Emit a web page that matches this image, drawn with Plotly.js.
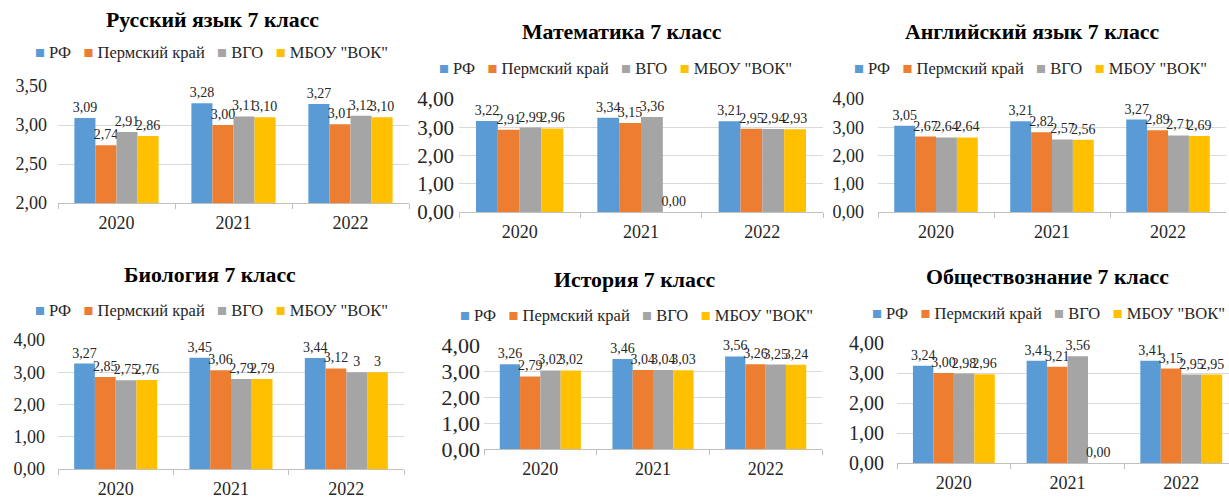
<!DOCTYPE html>
<html><head><meta charset="utf-8">
<script src="https://cdn.plot.ly/plotly-3.0.1.min.js"></script>
<style>html,body{margin:0;padding:0;background:#fff}#chart{width:1229px;height:497px}</style>
</head><body><div id="chart"></div>
<script>
// ---------- data ----------
const categories = ['2020', '2021', '2022'];
const seriesNames = ['РФ', 'Пермский край', 'ВГО', 'МБОУ "ВОК"'];
const seriesColors = ['#5B9BD5', '#ED7D31', '#A5A5A5', '#FFC000'];

const russianTitle = 'Русский язык 7 класс';
const russianRF = [3.09, 3.28, 3.27];
const russianPerm = [2.74, 3.00, 3.01];
const russianVGO = [2.91, 3.11, 3.12];
const russianVOK = [2.86, 3.10, 3.10];

const mathTitle = 'Математика 7 класс';
const mathRF = [3.22, 3.34, 3.21];
const mathPerm = [2.91, 3.15, 2.95];
const mathVGO = [2.99, 3.36, 2.94];
const mathVOK = [2.96, 0.00, 2.93];

const englishTitle = 'Английский язык 7 класс';
const englishRF = [3.05, 3.21, 3.27];
const englishPerm = [2.67, 2.82, 2.89];
const englishVGO = [2.64, 2.57, 2.71];
const englishVOK = [2.64, 2.56, 2.69];

const biologyTitle = 'Биология 7 класс';
const biologyRF = [3.27, 3.45, 3.44];
const biologyPerm = [2.85, 3.06, 3.12];
const biologyVGO = [2.75, 2.79, 3];
const biologyVOK = [2.76, 2.79, 3];

const historyTitle = 'История 7 класс';
const historyRF = [3.26, 3.46, 3.56];
const historyPerm = [2.79, 3.04, 3.26];
const historyVGO = [3.02, 3.04, 3.25];
const historyVOK = [3.02, 3.03, 3.24];

const socialTitle = 'Обществознание 7 класс';
const socialRF = [3.24, 3.41, 3.41];
const socialPerm = [3.00, 3.21, 3.15];
const socialVGO = [2.98, 3.56, 2.95];
const socialVOK = [2.96, 0.00, 2.95];

// decimals shown in data labels (biology 2022 shown as integers in the source)
const biologyVGODecimals = [2, 2, 0];
const biologyVOKDecimals = [2, 2, 0];

// ---------- layout helpers ----------
const W = 1229, H = 497;
const px = v => v / W, py = v => 1 - v / H;
const fmt = (v, d) => v.toFixed(d).replace('.', ',');
const serif = (size, color) => ({family: 'Liberation Serif', size: size, color: color || '#262626'});

const panels = [
  {title: russianTitle, series: [russianRF, russianPerm, russianVGO, russianVOK],
   plot: [58, 86, 409, 203], titleAt: [212, 20], legendAt: [33, 52],
   yRange: [2, 3.5], dtick: 0.5, tickSize: 18, standoff: 10, clip: true, xMax: 2.5},
  {title: mathTitle, series: [mathRF, mathPerm, mathVGO, mathVOK],
   plot: [459, 99, 823, 212], titleAt: [622, 32], legendAt: [437, 68],
   yRange: [0, 4], dtick: 1, tickSize: 21, standoff: 4, clip: false, xMax: 2.5},
  {title: englishTitle, series: [englishRF, englishPerm, englishVGO, englishVOK],
   plot: [878, 99, 1226, 212], titleAt: [1032, 32], legendAt: [852, 68],
   yRange: [0, 4], dtick: 1, tickSize: 18, standoff: 13, clip: false, xMax: 2.5},
  {title: biologyTitle, series: [biologyRF, biologyPerm, biologyVGO, biologyVOK],
   decimals: [null, null, biologyVGODecimals, biologyVOKDecimals],
   plot: [58, 340, 404, 469], titleAt: [210, 275], legendAt: [33, 310],
   yRange: [0, 4], dtick: 1, tickSize: 18, standoff: 12, clip: false, xMax: 2.5},
  {title: historyTitle, series: [historyRF, historyPerm, historyVGO, historyVOK],
   plot: [484, 345, 822, 449], titleAt: [635, 280], legendAt: [458, 315],
   yRange: [0, 4], dtick: 1, tickSize: 22, standoff: 3, clip: false, xMax: 2.5},
  {title: socialTitle, series: [socialRF, socialPerm, socialVGO, socialVOK],
   plot: [897, 343, 1229, 463], titleAt: [1047, 277], legendAt: [870, 313],
   yRange: [0, 4], dtick: 1, tickSize: 20, standoff: 12, clip: false, xMax: 2.42}
];

const traces = [];
const layout = {
  width: W, height: H,
  margin: {l: 0, r: 0, t: 0, b: 0},
  paper_bgcolor: '#ffffff', plot_bgcolor: '#ffffff',
  separators: ', ',
  showlegend: false,
  barmode: 'group', bargap: 0.28, bargroupgap: 0,
  annotations: []
};

const nb = '\u00A0';
const legendText = seriesNames.map((n, i) =>
  `<span style="color:${seriesColors[i]}">■</span>${nb}${n}`).join(nb + nb + nb);

panels.forEach((p, k) => {
  const idx = k === 0 ? '' : String(k + 1);
  const xa = 'x' + idx, ya = 'y' + idx;
  p.series.forEach((vals, s) => {
    const dec = p.decimals && p.decimals[s];
    traces.push({
      type: 'bar', x: categories, y: vals, name: seriesNames[s],
      xaxis: xa, yaxis: ya,
      marker: {color: seriesColors[s], line: {width: 0}},
      text: vals.map((v, i) => fmt(v, dec ? dec[i] : 2)),
      texttemplate: '%{text}',
      textposition: 'outside', constraintext: 'none', cliponaxis: p.clip,
      textfont: serif(14),
      hoverinfo: 'skip'
    });
  });
  const [x0, y0, x1, y1] = p.plot;
  layout['xaxis' + idx] = {
    type: 'category', domain: [px(x0), px(x1)], anchor: ya,
    range: [-0.5, p.xMax], fixedrange: true,
    showgrid: false, zeroline: false,
    showline: true, linecolor: '#bfbfbf', linewidth: 1,
    ticks: 'outside', tickson: 'boundaries', ticklen: 5, tickcolor: '#bfbfbf',
    ticklabelstandoff: 3,
    tickfont: serif(18)
  };
  layout['yaxis' + idx] = {
    domain: [py(y1), py(y0)], anchor: xa,
    range: p.yRange, tick0: 0, dtick: p.dtick, tickformat: '.2f',
    fixedrange: true, showgrid: true, gridcolor: '#d9d9d9', gridwidth: 1,
    zeroline: false, showline: false, ticks: '',
    ticklabelstandoff: p.standoff,
    tickfont: serif(p.tickSize)
  };
  layout.annotations.push({
    xref: 'paper', yref: 'paper', x: px(p.titleAt[0]), y: py(p.titleAt[1]),
    xanchor: 'center', yanchor: 'middle', showarrow: false,
    text: '<b>' + p.title + '</b>',
    font: serif(21.8, '#000000')
  });
  layout.annotations.push({
    xref: 'paper', yref: 'paper', x: px(p.legendAt[0]), y: py(p.legendAt[1]),
    xanchor: 'left', yanchor: 'middle', showarrow: false,
    text: legendText,
    font: serif(16.5)
  });
});

Plotly.newPlot('chart', traces, layout, {displayModeBar: false});
</script>
</body></html>
